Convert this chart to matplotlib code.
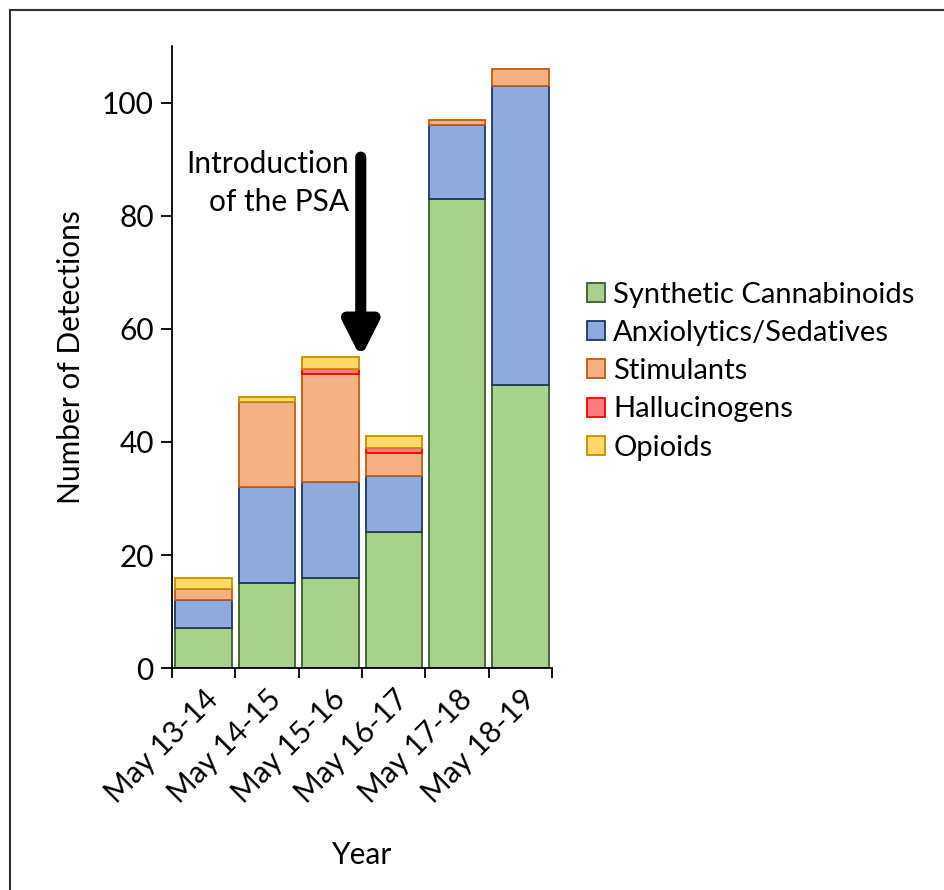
import matplotlib.pyplot as plt
import numpy as np
from matplotlib.lines import Line2D
from matplotlib.patches import Patch

plt.rcParams.update({
    'font.family': ['Lato', 'DejaVu Sans'],
    'font.size': 21.5,
})

# Dados
years = ['May 13-14', 'May 14-15', 'May 15-16', 'May 16-17', 'May 17-18', 'May 18-19']
cannabinoids = [7, 15, 16, 24, 83, 50]
sedatives = [5, 17, 17, 10, 13, 53]
stimulants = [2, 15, 19, 4, 1, 3]
hallucinogens = [0, 0, 1, 1, 0, 0]
opioids = [2, 1, 2, 2, 0, 0]

series = [
    ('Synthetic Cannabinoids', cannabinoids, '#A9D18E', '#3B5E2B'),
    ('Anxiolytics/Sedatives', sedatives, '#8FAADC', '#1F3864'),
    ('Stimulants', stimulants, '#F4B183', '#C55A11'),
    ('Hallucinogens', hallucinogens, '#FF7C80', '#FF0000'),
    ('Opioids', opioids, '#FFD966', '#BF9000'),
]

fig = plt.figure(figsize=(9.44, 8.9), dpi=100)
ax = fig.add_axes([0.182, 0.2494, 0.403, 0.6985])

x = np.arange(len(years))
bottom = np.zeros(len(years))
handles = []
for name, vals, fc, ec in series:
    vals = np.array(vals, dtype=float)
    mask = vals > 0
    ax.bar(x[mask], vals[mask], bottom=bottom[mask], width=0.89, color=fc,
           edgecolor=ec, linewidth=1.3)
    handles.append(Patch(facecolor=fc, edgecolor=ec, linewidth=1.3, label=name))
    bottom += vals

ax.set_xlim(-0.5, len(years) - 0.5)
ax.set_ylim(0, 110)
ax.set_yticks([0, 20, 40, 60, 80, 100])
ax.set_xticks(x)
ax.set_xticklabels(years, rotation=45, ha='right', rotation_mode='anchor')
ax.tick_params(axis='x', length=0, pad=12)
ax.set_xticks(np.arange(-0.5, len(years)), minor=True)
ax.tick_params(axis='x', which='minor', length=7, width=1.3, direction='out')
ax.tick_params(axis='y', length=8, width=1.3, direction='out', pad=5)
for s in ['top', 'right']:
    ax.spines[s].set_visible(False)
for s in ['left', 'bottom']:
    ax.spines[s].set_linewidth(1.3)

ax.set_xlabel('Year', labelpad=24)
ax.set_ylabel('Number of Detections', labelpad=12)

# Seta da introdução do PSA
ax.annotate('', xy=(2.48, 54.9), xytext=(2.48, 90.4),
            arrowprops=dict(arrowstyle='-|>,head_width=0.48,head_length=0.95',
                            color='black', lw=8, shrinkA=0, shrinkB=0))
ax.text(2.29, 91.6, 'Introduction\nof the PSA', ha='right', va='top',
        linespacing=1.4)

fig.legend(handles=handles, loc='center left', bbox_to_anchor=(0.609, 0.583),
           frameon=False, fontsize=21, handlelength=0.62, handleheight=0.62,
           handletextpad=0.3, labelspacing=0.42, borderaxespad=0)

# Moldura (esquerda e topo)
fig.add_artist(Line2D([0.0111, 0.0111], [0, 0.9888], color='#333333', lw=1.5,
                      transform=fig.transFigure))
fig.add_artist(Line2D([0.0111, 1.0], [0.9888, 0.9888], color='#333333', lw=1.5,
                      transform=fig.transFigure))

plt.savefig('out.png', dpi=100)
plt.close()
